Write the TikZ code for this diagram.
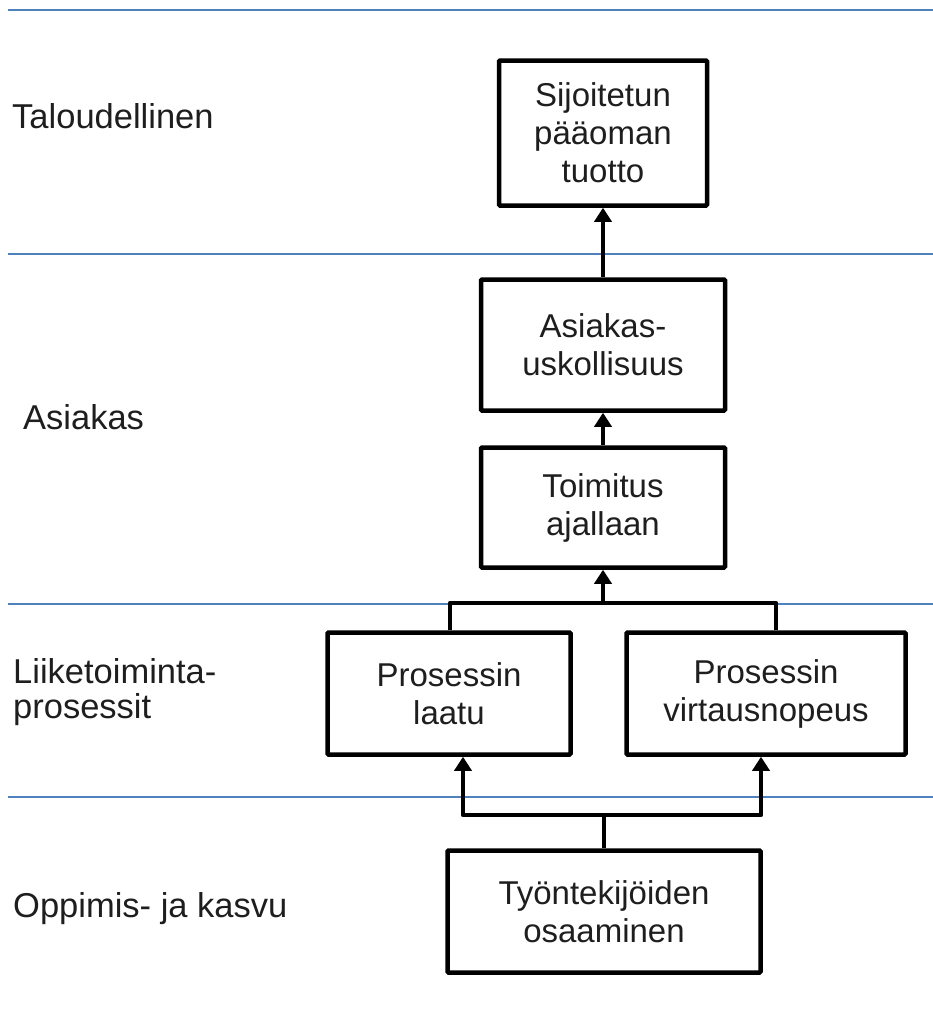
\documentclass[tikz,border=0pt]{standalone}
\usepackage{fontspec}
\setmainfont{Liberation Sans}
\usetikzlibrary{arrows.meta}
\usetikzlibrary{calc}

\definecolor{rajasin}{RGB}{79,129,189}
\definecolor{tekstisin}{RGB}{30,30,30}

\tikzset{
  laatikko/.style={draw, line width=4.5pt, rounded corners=1pt, align=center, inner sep=0pt,
    text=tekstisin, font=\fontsize{33}{38}\selectfont},
  taso/.style={anchor=base west, inner sep=0pt, align=left, text=tekstisin,
    font=\fontsize{34.5}{35}\selectfont},
  raja/.style={draw=rajasin, line width=1.6pt},
  yhteys/.style={line width=4.5pt, line join=round},
  nuoli/.style={yhteys, -{Triangle[length=14pt,width=17pt]}},
}

\begin{document}
\begin{tikzpicture}[x=1pt, y=-1pt]
            \useasboundingbox (0, 0) rectangle (933, 1023);

            % tasojen rajat
            \foreach \y in {10, 254, 604, 797}
                \draw[raja] (8, \y) -- (933, \y);

            \node[taso] (talous) at (12, 128) {Taloudellinen};
            \node[taso] (asiakas) at (23, 429) {Asiakas};
            \node[taso, anchor=west] (prosessit) at (13, 692) {Liiketoiminta-\\prosessit};
            \node[taso] (oppiminen) at (13, 917) {Oppimis- ja kasvu};

            \node[laatikko, minimum width=208pt, minimum height=145pt] (tuotto) at (603, 133) {Sijoitetun\\pääoman\\tuotto};
            \node[laatikko, minimum width=244pt, minimum height=131pt] (uskollisuus) at (603, 345) {Asiakas-\\uskollisuus};
            \node[laatikko, minimum width=244pt, minimum height=120pt] (toimitus) at (603, 507.5) {Toimitus\\ajallaan};
            \node[laatikko, minimum width=243pt, minimum height=122pt] (laatu) at (449, 693.5) {Prosessin\\laatu};
            \node[laatikko, minimum width=279pt, minimum height=122pt] (virtaus) at (766, 693.5) {Prosessin\\virtausnopeus};
            \node[laatikko, minimum width=313pt, minimum height=122pt] (osaaminen) at (604, 911.5) {Työntekijöiden\\osaaminen};

            \draw[nuoli] (uskollisuus.north) -- (tuotto.south);
            \draw[nuoli] (toimitus.north) -- (uskollisuus.south);

            % prosessit -> toimitus
            \coordinate (ylos) at (603, 603);
            \draw[yhteys] ([xshift=1pt]laatu.north) |- (ylos) -| ([xshift=10pt]virtaus.north);
            \draw[nuoli] (ylos) -- (toimitus.south);

            % osaaminen -> prosessit
            \coordinate (alas) at (604, 815);
            \draw[yhteys] (osaaminen.north) -- (alas);
            \draw[nuoli] (alas) -| ([xshift=14pt]laatu.south);
            \draw[nuoli] (alas) -| ([xshift=-5pt]virtaus.south);
        \end{tikzpicture}
\end{document}
